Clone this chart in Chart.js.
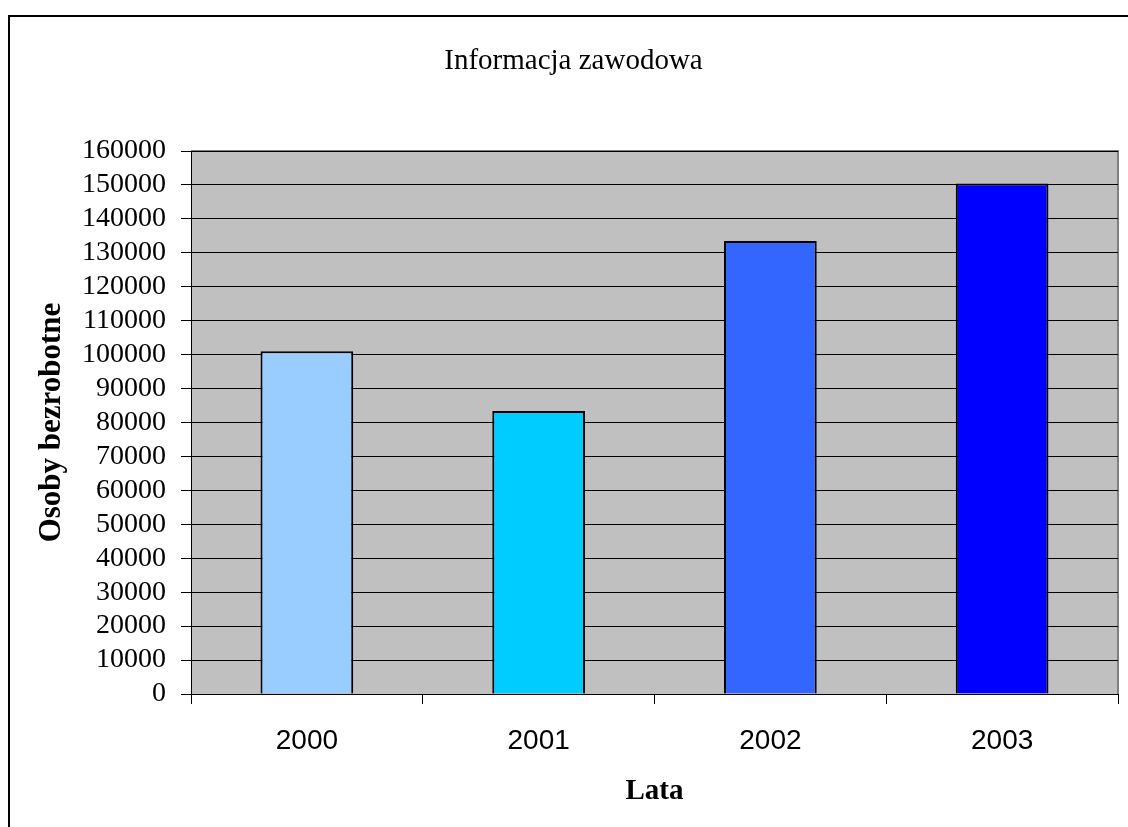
<!DOCTYPE html>
<html lang="pl">
<head>
  <meta charset="UTF-8" />
  <title>Informacja zawodowa</title>
  <style>
    body { margin: 0; background: #fff; }
    canvas { display: block; }
  </style>
  <script src="https://cdn.jsdelivr.net/npm/chart.js"></script>
</head>
<body>
  <canvas id="wykres" width="1128" height="827"></canvas>
  <script>
    // dane
    const lata = ["2000", "2001", "2002", "2003"];
    const bezrobotni = [101000, 83400, 133500, 150400];
    const kolory = ["#99CCFF", "#00CCFF", "#3366FF", "#0000FF"];

    // tlo obszaru wykresu + ramka calosci
    const tlo = {
      id: "tlo",
      beforeDraw(chart) {
        const { ctx, chartArea: a } = chart;
        ctx.save();
        ctx.fillStyle = "#fff";
        ctx.fillRect(0, 0, chart.width, chart.height);
        ctx.strokeStyle = "#000";
        ctx.lineWidth = 2;
        ctx.strokeRect(9, 16, chart.width + 20, chart.height + 20);
        ctx.fillStyle = "#C0C0C0";
        ctx.fillRect(a.left, a.top, a.right - a.left, a.bottom - a.top);
        ctx.strokeStyle = "#808080";
        ctx.beginPath();
        ctx.moveTo(a.left, a.top);
        ctx.lineTo(a.right, a.top);
        ctx.lineTo(a.right, a.bottom);
        ctx.stroke();
        ctx.restore();
      }
    };

    new Chart(document.getElementById("wykres"), {
      type: "bar",
      data: {
        labels: lata,
        datasets: [{
          data: bezrobotni,
          backgroundColor: kolory,
          borderColor: "#000",
          borderWidth: 2,
          barPercentage: 0.4,
          categoryPercentage: 1
        }]
      },
      options: {
        responsive: false,
        animation: false,
        layout: { padding: { left: 29, right: 10, top: 0, bottom: 0 } },
        plugins: {
          legend: { display: false },
          tooltip: { enabled: false },
          title: {
            display: true,
            text: "Informacja zawodowa",
            color: "#000",
            font: { family: "'Liberation Serif', 'Times New Roman', serif", size: 29, weight: "normal" },
            padding: { top: 43.6, bottom: 72.6 }
          }
        },
        scales: {
          x: {
            afterFit(s) { s.height = 133; },
            grid: { drawOnChartArea: false, drawTicks: true, tickLength: 10, color: "#000", offset: true },
            border: { color: "#000", width: 1 },
            ticks: {
              color: "#000",
              padding: 20,
              font: { family: "'Liberation Sans', Arial, sans-serif", size: 28 }
            },
            title: {
              display: true,
              text: "Lata",
              color: "#000",
              font: { family: "'Liberation Serif', 'Times New Roman', serif", size: 29, weight: "bold" },
              padding: { top: 0, bottom: 18 }
            }
          },
          y: {
            min: 0,
            max: 160000,
            afterFit(s) { s.width = 162; },
            grid: { color: "#000", lineWidth: 1, tickLength: 10 },
            border: { color: "#000", width: 1 },
            ticks: {
              stepSize: 10000,
              autoSkip: false,
              color: "#000",
              padding: 15,
              font: { family: "'Liberation Serif', 'Times New Roman', serif", size: 28 },
              callback: v => String(v)
            },
            title: {
              display: true,
              text: "Osoby bezrobotne",
              color: "#000",
              font: { family: "'Liberation Serif', 'Times New Roman', serif", size: 31, weight: "bold" },
              padding: { top: 4, bottom: 0 }
            }
          }
        }
      },
      plugins: [tlo]
    });
  </script>
</body>
</html>
